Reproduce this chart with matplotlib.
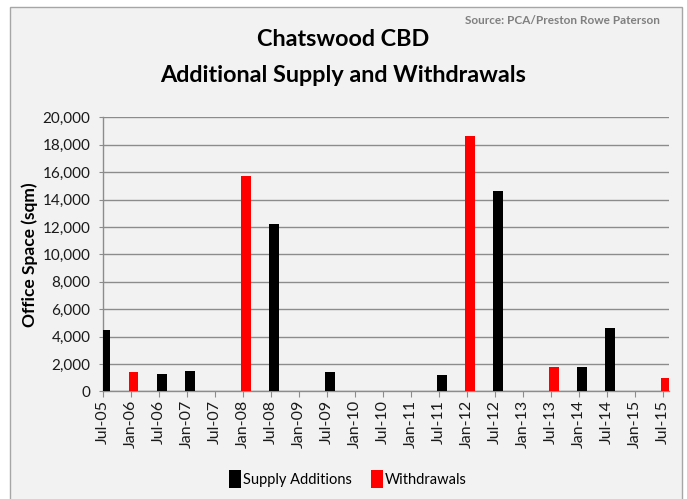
import matplotlib
matplotlib.use("Agg")
import matplotlib.pyplot as plt
from matplotlib.patches import Rectangle, Patch
import numpy as np

categories = ["Jul-05", "Jan-06", "Jul-06", "Jan-07", "Jul-07", "Jan-08", "Jul-08",
              "Jan-09", "Jul-09", "Jan-10", "Jul-10", "Jan-11", "Jul-11", "Jan-12",
              "Jul-12", "Jan-13", "Jul-13", "Jan-14", "Jul-14", "Jan-15", "Jul-15"]
supply_additions = [4500, 0, 1250, 1500, 0, 0, 12200, 0, 1400, 0, 0, 0, 1200, 0,
                    14650, 0, 0, 1800, 4600, 0, 0]
withdrawals = [0, 1400, 0, 0, 0, 15700, 0, 0, 0, 0, 0, 0, 0, 18650,
               0, 0, 1800, 0, 0, 0, 1000]
y_ticks = [0, 2000, 4000, 6000, 8000, 10000, 12000, 14000, 16000, 18000, 20000]

plt.rcParams['font.family'] = ['Lato', 'DejaVu Sans']

W, H = 687, 499
fig = plt.figure(figsize=(W / 100, H / 100), dpi=100, facecolor='white')

# outer chart frame
fig.patches.append(Rectangle((10 / W, -0.05), (682 - 10) / W, 1.05 - 7 / H,
                             transform=fig.transFigure, facecolor='#f2f2f2',
                             edgecolor='#a6a6a6', linewidth=1.0, zorder=-5))

ax = fig.add_axes([103 / W, 1 - 391.3 / H, (668.7 - 103) / W, (391.3 - 117.3) / H])
ax.set_zorder(2)
ax.set_facecolor('none')

x = np.arange(len(categories))
bw = 0.335
ax.bar(x + 0.1, supply_additions, width=bw, color='black', zorder=3)
ax.bar(x + 0.1, withdrawals, width=bw, color='#ff0000', zorder=3)

ax.set_xlim(0, 20.2)
ax.set_ylim(0, 20000)
ax.set_yticks(y_ticks)
ax.set_yticklabels([f"{v:,}" for v in y_ticks], fontsize=11, color='#1a1a1a')
ax.set_xticks(x)
ax.set_xticklabels(categories, rotation=90, fontsize=11.5, color='#1a1a1a')

ax.yaxis.grid(True, color='#8c8c8c', linewidth=1.0, zorder=0)
ax.set_axisbelow(True)
for s in ['top', 'right']:
    ax.spines[s].set_visible(False)
for s in ['left', 'bottom']:
    ax.spines[s].set_color('#8c8c8c')
    ax.spines[s].set_linewidth(1.0)
ax.tick_params(axis='y', length=3, color='#8c8c8c', pad=6)
ax.tick_params(axis='x', length=4, color='#8c8c8c', pad=2)

ax.set_ylabel("Office Space (sqm)", fontsize=12.5, fontweight='bold', labelpad=3)

fig.text(0.5, 1 - 40 / H, "Chatswood CBD", ha='center', va='center',
         fontsize=16.8, fontweight='bold')
fig.text(0.5, 1 - 76 / H, "Additional Supply and Withdrawals", ha='center',
         va='center', fontsize=16.8, fontweight='bold')
fig.text(660 / W, 1 - 20 / H, "Source: PCA/Preston Rowe Paterson", ha='right',
         va='center', fontsize=8.5, fontweight='bold', color='#7f7f7f')

handles = [Patch(facecolor='black', label='Supply Additions'),
           Patch(facecolor='#ff0000', label='Withdrawals')]
fig.legend(handles=handles, loc='center', bbox_to_anchor=(348 / W, 1 - 479 / H),
           ncol=2, frameon=False, fontsize=10.5, handlelength=0.8,
           handleheight=1.6, handletextpad=0.15, columnspacing=1.3)

fig.savefig("out.png", dpi=100, facecolor='white')
